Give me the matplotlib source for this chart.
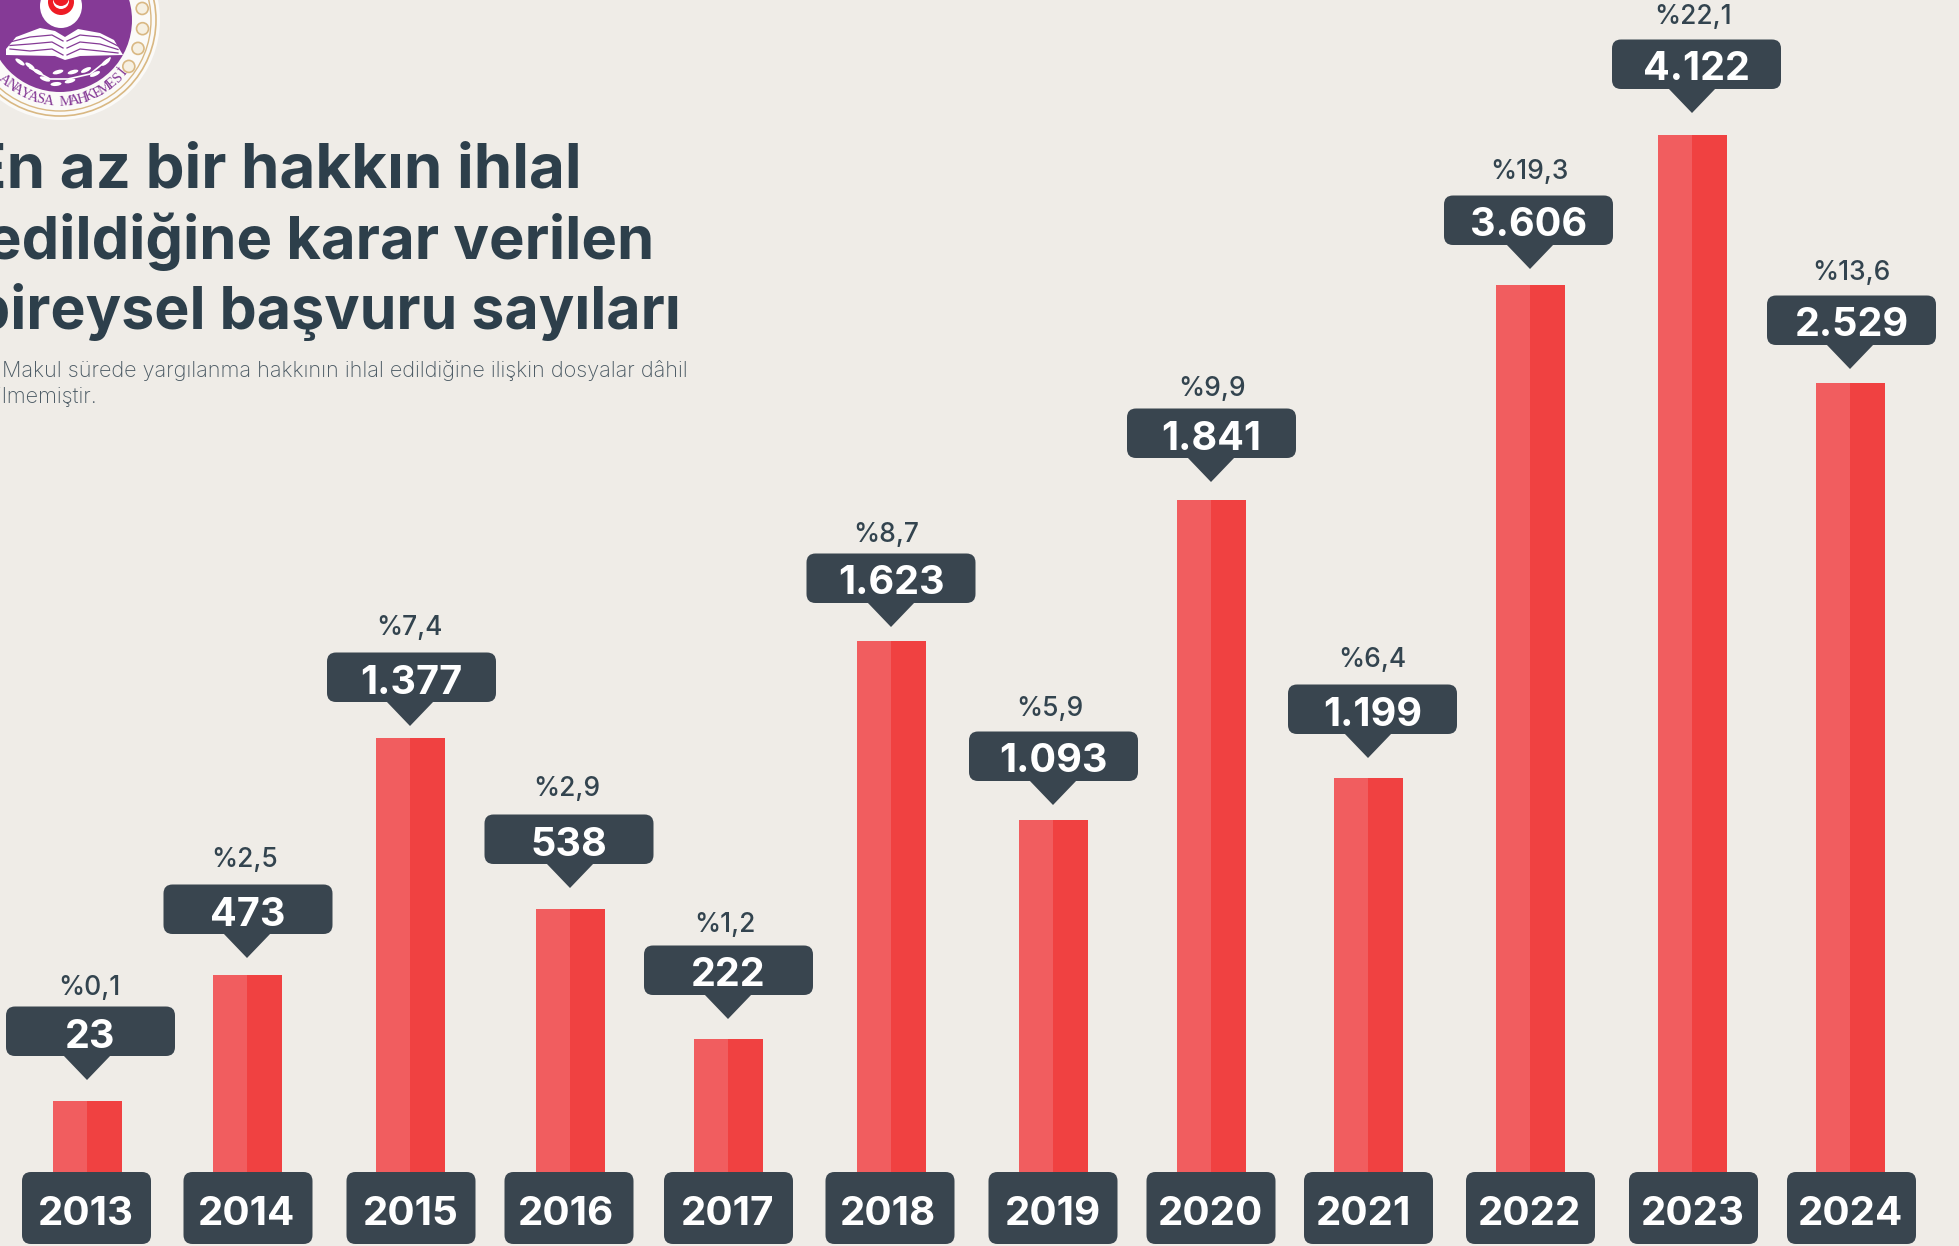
#!/usr/bin/env python3

import matplotlib
matplotlib.use("Agg")
import matplotlib.pyplot as plt
import numpy as np
from matplotlib.patches import Circle, Ellipse, FancyBboxPatch, Polygon

years = ["2013", "2014", "2015", "2016", "2017", "2018", "2019", "2020", "2021", "2022", "2023", "2024"]
counts = ["23", "473", "1.377", "538", "222", "1.623", "1.093", "1.841", "1.199", "3.606", "4.122", "2.529"]
shares = ["%0,1", "%2,5", "%7,4", "%2,9", "%1,2", "%8,7", "%5,9", "%9,9", "%6,4", "%19,3", "%22,1", "%13,6"]
# the source graphic is not drawn to scale, so these are the lengths as read off it
bar_lengths = [71, 197, 434, 263, 133, 531, 352, 672, 394, 887, 1037, 789]

title_lines = ["En az bir hakkın ihlal", "edildiğine karar verilen", "bireysel başvuru sayıları"]
note_lines = ["Makul sürede yargılanma hakkının ihlal edildiğine ilişkin dosyalar dâhil", "edilmemiştir."]

# layout, in pixels
W, H = 1959, 1246
BASE = 1172
CENTERS = [87, 247, 410, 570, 728, 891, 1053, 1211, 1368, 1530, 1692, 1850]
YEAR_BOX_SHIFT = [-0.5, 1, 1, -1, 0.5, -1, 0, 0, 0.5, 0.5, 1.5, 1.5]
YEAR_TEXT_X = [86, 247, 411, 566, 728, 888, 1053, 1211, 1364, 1530, 1693, 1851]
TIP_GAP = [21, 17, 12, 21, 20, 14, 15, 18, 20, 16, 22, 14]
BOX_SHIFT = [3.5, 1, 1.5, -1, 0.5, 0, 0.5, 0.5, 4.5, -1.5, 4.5, 1.5]
SHARE_X = [90, 246, 410, 568, 726, 887, 1051, 1213, 1373, 1530, 1694, 1852]
SHARE_GAP = [21, 27, 27, 28, 23, 21, 25, 22, 27, 26, 25, 25]

BG = "#EFECE7"
LIGHT_RED = "#F15D5F"
RED = "#F04141"
DARK = "#39454F"
TITLE = "#2D3F4B"
PURPLE = "#853A96"
GOLD = "#D9B883"
FONT = "Inter"


def px(y):
    return BASE - y


def rounded_box(ax, x0, y0, w, h):
    ax.add_patch(FancyBboxPatch((x0, y0), w, h, boxstyle="round,pad=0,rounding_size=9",
                                fc=DARK, ec="none", zorder=3))


def draw_logo(ax):
    cx, cy = 60, 20
    ax.add_patch(Circle((cx, px(cy)), 100, fc="#FBFAF8", ec="none", zorder=4))
    ax.add_patch(Circle((cx, px(cy)), 96, fc="none", ec=GOLD, lw=1.2, zorder=4))
    ax.add_patch(Circle((cx, px(cy)), 91, fc="none", ec=GOLD, lw=1.0, zorder=4))
    ax.add_patch(Circle((cx, px(cy)), 72, fc=PURPLE, ec="none", zorder=4))

    for ang in [-8, 6, 20, 34]:
        t = np.radians(ang)
        ax.add_patch(Circle((cx + 83 * np.cos(t), px(cy + 83 * np.sin(t))), 6,
                            fc="#F6F0E2", ec=GOLD, lw=1.2, zorder=5))

    # emblem at the top
    ax.add_patch(Ellipse((61, px(6)), 42, 44, fc="white", ec="none", zorder=5))
    ax.add_patch(Circle((61, px(2)), 13, fc="#EE1C25", ec="none", zorder=6))
    ax.add_patch(Circle((61, px(1)), 8, fc="white", ec="none", zorder=6))
    ax.add_patch(Circle((61, px(-2)), 8, fc="#EE1C25", ec="none", zorder=6))

    # open book
    left = [(6, 49), (16, 37), (40, 28), (55, 31), (65, 37), (65, 60), (55, 56), (6, 55)]
    right = [(65, 37), (78, 29), (100, 33), (114, 40), (123, 55), (80, 56), (65, 60)]
    for pts in (left, right):
        ax.add_patch(Polygon([(x, px(y)) for x, y in pts], fc="white", ec="none", zorder=6))
    for dy in (0, 7, 14):
        ax.plot([10, 30, 52, 63], [px(44 + dy * 0.5 - 2), px(37 + dy), px(35 + dy), px(41 + dy)],
                color=PURPLE, lw=0.9, zorder=7)
        ax.plot([67, 80, 100, 118], [px(41 + dy), px(35 + dy), px(37 + dy), px(46 + dy * 0.5)],
                color=PURPLE, lw=0.9, zorder=7)

    # olive branch
    ax.plot([30, 50, 68, 90, 110], [px(68), px(79), px(79), px(74), px(58)], color="white", lw=1.2, zorder=6)
    leaves = [(20, 62, -35), (30, 66, -35), (38, 72, -30), (45, 79, -20), (58, 72, 15), (73, 72, 15),
              (56, 84, 5), (70, 81, 15), (86, 70, 25), (95, 74, 25), (106, 62, 40)]
    for x, y, rot in leaves:
        ax.add_patch(Ellipse((x, px(y)), 11, 4, angle=rot, fc="white", ec="none", zorder=6))

    # ring lettering, one glyph at a time along the arc
    for ch, ang in zip("ANAYASA MAHKEMESİ", np.linspace(133, 39, 17)):
        t = np.radians(ang)
        ax.text(cx + 82 * np.cos(t), px(cy + 82 * np.sin(t)), ch, rotation=90 - ang, rotation_mode="anchor",
                ha="center", va="center", fontsize=10.5, family="Liberation Serif", color=PURPLE, zorder=6)


def main():
    fig = plt.figure(figsize=(W / 100, H / 100), dpi=100, facecolor=BG)
    ax = fig.add_axes([0, 0, 1, 1])
    ax.set_xlim(0, W)
    ax.set_ylim(BASE - H, BASE)
    ax.axis("off")

    centers = np.array(CENTERS)
    ax.bar(centers, bar_lengths, width=-34, align="edge", color=LIGHT_RED, zorder=2)
    ax.bar(centers, bar_lengths, width=35, align="edge", color=RED, zorder=2)

    for i, year in enumerate(years):
        # year tab under the bar
        rounded_box(ax, CENTERS[i] + YEAR_BOX_SHIFT[i] - 64.5, BASE - H + 2, 129, 72)
        ax.text(YEAR_TEXT_X[i], -38.5, year, ha="center", va="center_baseline", color="white",
                fontsize=29, fontweight="bold", family=FONT, zorder=4)

        # callout above the bar
        tip = bar_lengths[i] + TIP_GAP[i]
        box_y = tip + 24
        rounded_box(ax, CENTERS[i] + BOX_SHIFT[i] - 84.5, box_y, 169, 49.5)
        ax.add_patch(Polygon([(CENTERS[i] - 24, box_y + 1), (CENTERS[i] + 24, box_y + 1), (CENTERS[i], tip)],
                             fc=DARK, ec="none", zorder=3))
        ax.text(CENTERS[i] + BOX_SHIFT[i], box_y + 23, counts[i], ha="center", va="center_baseline",
                color="white", fontsize=28.5, fontweight="bold", family=FONT, zorder=4)
        ax.text(SHARE_X[i] - 1, box_y + 50 + SHARE_GAP[i], shares[i], ha="center", va="center_baseline",
                color="#33444F", fontsize=19, fontweight="medium", family=FONT, zorder=4)

    for line, right, base, size in zip(title_lines, [582, 654, 681], [188, 259, 329], [44.5, 43, 42.5]):
        ax.text(right, px(base), line, ha="right", va="baseline", color=TITLE,
                fontsize=size, fontweight="bold", family=FONT)

    for line, right, base in zip(note_lines, [688, 97], [377, 403]):
        ax.text(right, px(base), line, ha="right", va="baseline", color="#4A5963",
                fontsize=15.6, fontweight="light", family=FONT)

    draw_logo(ax)

    fig.savefig("out.png", dpi=100, facecolor=BG)


if __name__ == "__main__":
    main()
